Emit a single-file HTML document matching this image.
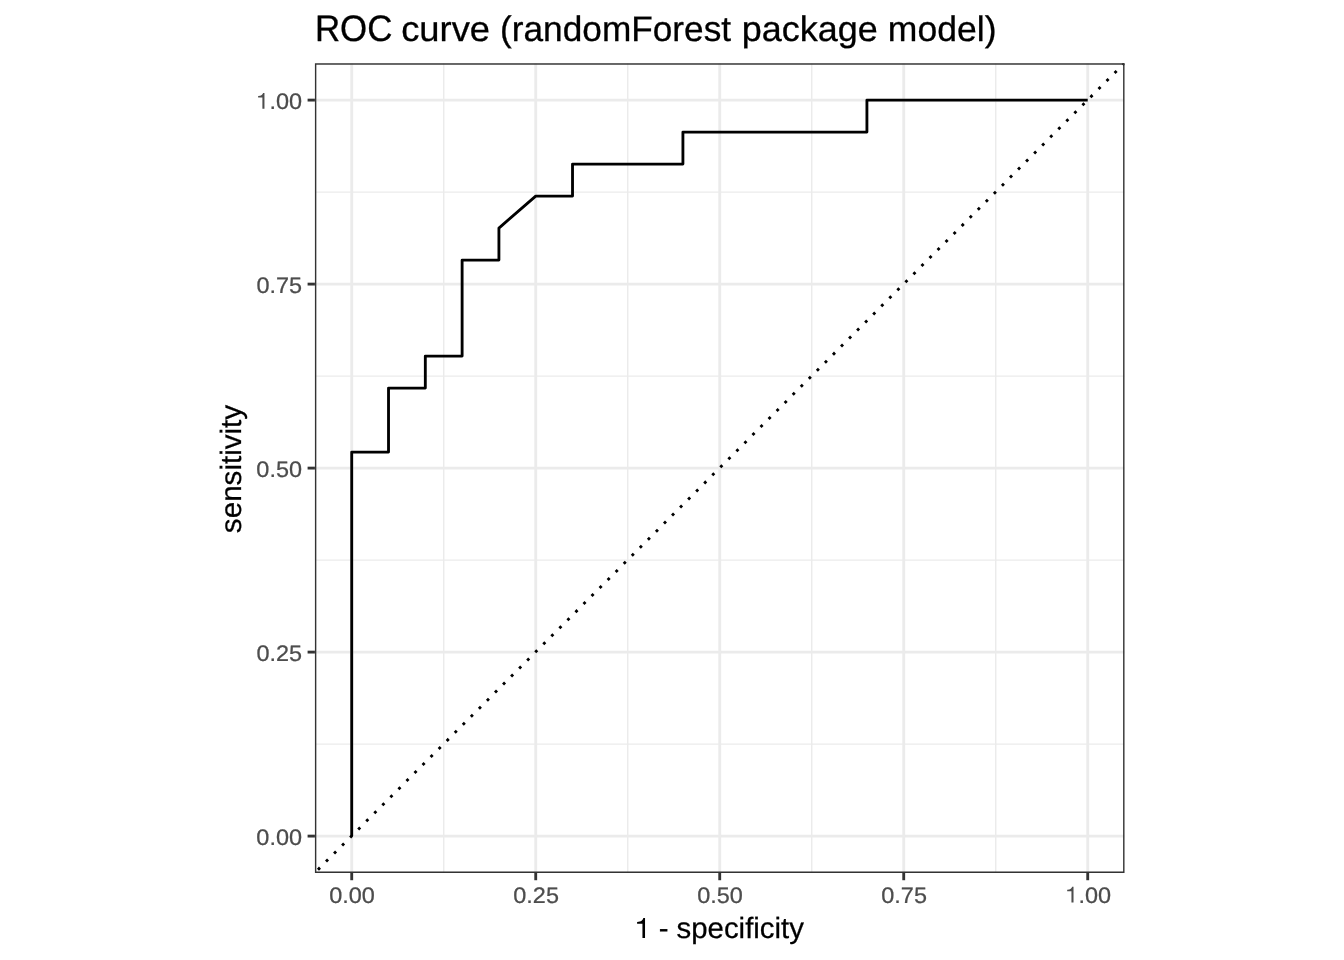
<!DOCTYPE html>
<html>
<head>
<meta charset="utf-8">
<title>ROC curve (randomForest package model)</title>
<style>
html,body{margin:0;padding:0;background:#ffffff;}
body{width:1344px;height:960px;overflow:hidden;}
svg{display:block;will-change:transform;}
text{font-family:"Liberation Sans",sans-serif;font-kerning:none;font-variant-ligatures:none;text-rendering:geometricPrecision;}
</style>
</head>
<body>
<svg width="1344" height="960" viewBox="0 0 1344 960">
<rect x="0" y="0" width="1344" height="960" fill="#ffffff"/>
<defs><clipPath id="panel"><rect x="314.92" y="63.30" width="809.60" height="809.60"/></clipPath></defs>

<g clip-path="url(#panel)">
<g stroke="#ebebeb" stroke-width="1.423" fill="none">
<line x1="443.72" y1="63.30" x2="443.72" y2="872.90"/>
<line x1="314.92" y1="744.1" x2="1124.52" y2="744.1"/>
<line x1="627.72" y1="63.30" x2="627.72" y2="872.90"/>
<line x1="314.92" y1="560.1" x2="1124.52" y2="560.1"/>
<line x1="811.72" y1="63.30" x2="811.72" y2="872.90"/>
<line x1="314.92" y1="376.1" x2="1124.52" y2="376.1"/>
<line x1="995.72" y1="63.30" x2="995.72" y2="872.90"/>
<line x1="314.92" y1="192.1" x2="1124.52" y2="192.1"/>
</g>
<g stroke="#ebebeb" stroke-width="2.845" fill="none">
<line x1="351.72" y1="63.30" x2="351.72" y2="872.90"/>
<line x1="314.92" y1="836.1" x2="1124.52" y2="836.1"/>
<line x1="535.72" y1="63.30" x2="535.72" y2="872.90"/>
<line x1="314.92" y1="652.1" x2="1124.52" y2="652.1"/>
<line x1="719.72" y1="63.30" x2="719.72" y2="872.90"/>
<line x1="314.92" y1="468.1" x2="1124.52" y2="468.1"/>
<line x1="903.72" y1="63.30" x2="903.72" y2="872.90"/>
<line x1="314.92" y1="284.1" x2="1124.52" y2="284.1"/>
<line x1="1087.72" y1="63.30" x2="1087.72" y2="872.90"/>
<line x1="314.92" y1="100.1" x2="1124.52" y2="100.1"/>
</g>
<path d="M351.72 836.1 L351.72 452.1 L388.52 452.1 L388.52 388.1 L425.32 388.1 L425.32 356.1 L462.12 356.1 L462.12 260.1 L498.92 260.1 L498.92 228.1 L535.72 196.1 L572.52 196.1 L572.52 164.1 L682.92 164.1 L682.92 132.1 L866.92 132.1 L866.92 100.1 L1087.72 100.1" fill="none" stroke="#000000" stroke-width="2.845" stroke-linejoin="round" stroke-linecap="butt"/>
<line x1="314.80" y1="872.80" x2="1124.40" y2="63.20" stroke="#000000" stroke-width="2.845" stroke-dasharray="2.845 8.535" stroke-dashoffset="6.900"/>
<rect x="314.92" y="63.30" width="809.60" height="809.60" fill="none" stroke="#333333" stroke-width="2.845"/>
</g>
<g stroke="#333333" stroke-width="2.845" fill="none">
<line x1="351.72" y1="872.90" x2="351.72" y2="880.23"/>
<line x1="307.59" y1="836.1" x2="314.92" y2="836.1"/>
<line x1="535.72" y1="872.90" x2="535.72" y2="880.23"/>
<line x1="307.59" y1="652.1" x2="314.92" y2="652.1"/>
<line x1="719.72" y1="872.90" x2="719.72" y2="880.23"/>
<line x1="307.59" y1="468.1" x2="314.92" y2="468.1"/>
<line x1="903.72" y1="872.90" x2="903.72" y2="880.23"/>
<line x1="307.59" y1="284.1" x2="314.92" y2="284.1"/>
<line x1="1087.72" y1="872.90" x2="1087.72" y2="880.23"/>
<line x1="307.59" y1="100.1" x2="314.92" y2="100.1"/>
</g>
<text transform="translate(329.23 902.60) scale(1.0000 0.9550)" font-size="23.47px" fill="#4d4d4d" stroke="#4d4d4d" stroke-width="0.25">0.00</text>
<text transform="translate(256.34 844.85) scale(1.0000 0.9550)" font-size="23.47px" fill="#4d4d4d" stroke="#4d4d4d" stroke-width="0.25">0.00</text>
<text transform="translate(513.26 902.60) scale(1.0000 0.9550)" font-size="23.47px" fill="#4d4d4d" stroke="#4d4d4d" stroke-width="0.25">0.25</text>
<text transform="translate(256.41 660.85) scale(1.0000 0.9550)" font-size="23.47px" fill="#4d4d4d" stroke="#4d4d4d" stroke-width="0.25">0.25</text>
<text transform="translate(697.23 902.60) scale(1.0000 0.9550)" font-size="23.47px" fill="#4d4d4d" stroke="#4d4d4d" stroke-width="0.25">0.50</text>
<text transform="translate(256.34 476.85) scale(1.0000 0.9550)" font-size="23.47px" fill="#4d4d4d" stroke="#4d4d4d" stroke-width="0.25">0.50</text>
<text transform="translate(881.26 902.60) scale(1.0000 0.9550)" font-size="23.47px" fill="#4d4d4d" stroke="#4d4d4d" stroke-width="0.25">0.75</text>
<text transform="translate(256.41 292.85) scale(1.0000 0.9550)" font-size="23.47px" fill="#4d4d4d" stroke="#4d4d4d" stroke-width="0.25">0.75</text>
<path transform="translate(1064.79 902.60) scale(0.02347 -0.02241)" d="M284 0L372 0L372 709L313 709C298 640 245 576 102 568L102 505L284 505Z" fill="#4d4d4d"/>
<text transform="translate(1078.45 902.60) scale(1.0000 0.9550)" font-size="23.47px" fill="#4d4d4d" stroke="#4d4d4d" stroke-width="0.25">.00</text>
<path transform="translate(255.73 108.85) scale(0.02347 -0.02241)" d="M284 0L372 0L372 709L313 709C298 640 245 576 102 568L102 505L284 505Z" fill="#4d4d4d"/>
<text transform="translate(269.39 108.85) scale(1.0000 0.9550)" font-size="23.47px" fill="#4d4d4d" stroke="#4d4d4d" stroke-width="0.25">.00</text>
<text transform="translate(314.94 40.80) scale(0.9850 1.0450)" font-size="35.40px" fill="#000000" stroke="#000000" stroke-width="0.30">ROC</text>
<text transform="translate(401.16 40.80) scale(1.0265 1.0000)" font-size="35.40px" fill="#000000" stroke="#000000" stroke-width="0.30">curve</text>
<text transform="translate(500.06 40.80) scale(0.9955 1.0000)" font-size="35.40px" fill="#000000" stroke="#000000" stroke-width="0.30">(randomForest</text>
<text transform="translate(741.68 40.80) scale(1.0170 1.0000)" font-size="35.40px" fill="#000000" stroke="#000000" stroke-width="0.30">package</text>
<text transform="translate(887.84 40.80) scale(1.0043 1.0000)" font-size="35.40px" fill="#000000" stroke="#000000" stroke-width="0.30">model)</text>
<path transform="translate(634.11 938.00) scale(0.02936 -0.02830)" d="M284 0L372 0L372 709L313 709C298 640 245 576 102 568L102 505L284 505Z" fill="#000000"/>
<text transform="translate(658.65 938.00) scale(1.0011 1.0000)" font-size="29.33px" fill="#000000" stroke="#000000" stroke-width="0.25">- specificity</text>
<text transform="translate(240.8 532.30) rotate(-90) scale(1.009 1) translate(-0.82 0)" font-size="29.33px" fill="#000000" stroke="#000000" stroke-width="0.25">sensitivity</text>
</svg>
</body>
</html>
